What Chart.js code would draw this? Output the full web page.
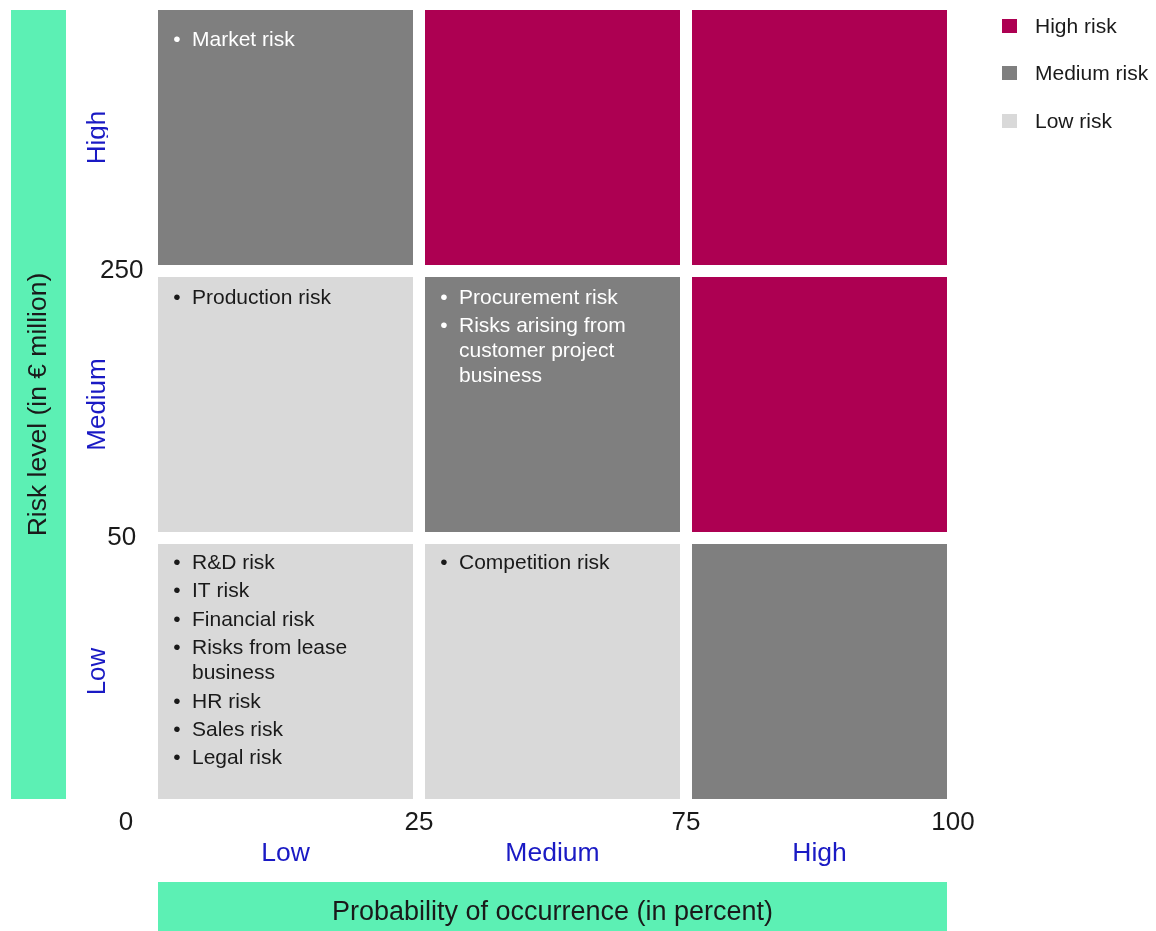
<!DOCTYPE html>
<html lang="en">
<head>
  <meta charset="UTF-8">
  <meta name="viewport" content="width=device-width, initial-scale=1.0">
  <title>Risk matrix</title>
  <script src="https://cdn.jsdelivr.net/npm/chart.js"></script>
  <style>
    body { margin: 0; background: #fff; font-family: 'Liberation Sans', Arial, sans-serif; }
    #wrap { position: relative; width: 1156px; height: 931px; }
    #legend { position: absolute; left: 1002px; top: 2px; list-style: none; margin: 0; padding: 0; }
    #legend li { height: 47.5px; display: flex; align-items: center; font-size: 21px; color: #1a1a1a; }
    #legend .box { display: inline-block; width: 15px; height: 14px; margin-right: 18px; }
  </style>
</head>
<body>

<div id="wrap">
  <canvas id="riskChart"></canvas>
  <ul id="legend"></ul>
</div>

<script>
  // axis bands and boundary ticks
  const probabilityLabels = ['Low', 'Medium', 'High'];
  const probabilityBounds = ['0', '25', '75', '100'];
  const levelLabels = ['Low', 'Medium', 'High']; // bottom to top
  const levelBounds = ['0', '50', '250'];
  const bandSize = [1, 1, 1]; // each cell is one band tall

  // risk class of each cell, left to right along probability
  const lowLevelRisk = ['low', 'low', 'medium'];
  const mediumLevelRisk = ['low', 'medium', 'high'];
  const highLevelRisk = ['medium', 'high', 'high'];

  // risks listed in each cell
  const lowLevelItems = [
    ['R&D risk', 'IT risk', 'Financial risk', 'Risks from lease business', 'HR risk', 'Sales risk', 'Legal risk'],
    ['Competition risk'],
    []
  ];
  const mediumLevelItems = [
    ['Production risk'],
    ['Procurement risk', 'Risks arising from customer project business'],
    []
  ];
  const highLevelItems = [
    ['Market risk'],
    [],
    []
  ];

  const legendLabels = ['High risk', 'Medium risk', 'Low risk'];
  const legendRisks = ['high', 'medium', 'low'];

  // styles
  const fontFamily = "'Liberation Sans', Arial, sans-serif";
  const riskColors = { high: '#ad0052', medium: '#7f7f7f', low: '#d9d9d9' };
  const riskTextColors = { high: '#ffffff', medium: '#ffffff', low: '#1a1a1a' };
  const green = '#5cf0b4';
  const blue = '#1a1ac4';
  const ink = '#1a1a1a';
  const gap = 6;
  const noGrid = { display: false, drawTicks: false };

  Chart.defaults.font.family = fontFamily;
  Chart.defaults.color = ink;

  const rows = [
    { label: 'Low', risk: lowLevelRisk, items: lowLevelItems },
    { label: 'Medium', risk: mediumLevelRisk, items: mediumLevelItems },
    { label: 'High', risk: highLevelRisk, items: highLevelItems }
  ];

  function wrap(ctx, text, maxWidth) {
    const lines = [];
    let cur = '';
    text.split(' ').forEach(w => {
      const test = cur ? cur + ' ' + w : w;
      if (cur && ctx.measureText(test).width > maxWidth) {
        lines.push(cur);
        cur = w;
      } else {
        cur = test;
      }
    });
    lines.push(cur);
    return lines;
  }

  // green boxes behind the axis titles, and the shared origin label
  const titleBoxes = {
    id: 'titleBoxes',
    beforeDraw(chart) {
      const { ctx, chartArea: a, scales } = chart;
      ctx.save();
      ctx.fillStyle = green;
      ctx.fillRect(scales.yLevel.left + 11, a.top + gap, 55, a.bottom - a.top - 2 * gap);
      ctx.fillRect(a.left + gap, scales.x.bottom - 49, a.right - a.left - 2 * gap, 49);
      ctx.restore();
    },
    afterDraw(chart) {
      const { ctx, scales } = chart;
      ctx.save();
      ctx.font = '26px ' + fontFamily;
      ctx.fillStyle = ink;
      ctx.textAlign = 'center';
      ctx.textBaseline = 'middle';
      ctx.fillText(probabilityBounds[0], scales.y.left + 18, scales.xNum.top + 18);
      ctx.restore();
    }
  };

  // bullet lists inside the cells
  const cellText = {
    id: 'cellText',
    afterDatasetsDraw(chart, args, opts) {
      const ctx = chart.ctx;
      ctx.save();
      ctx.font = opts.size + 'px ' + fontFamily;
      ctx.textBaseline = 'alphabetic';
      chart.data.datasets.forEach((ds, row) => {
        chart.getDatasetMeta(row).data.forEach((bar, col) => {
          const { x, y, base, width } = bar.getProps(['x', 'y', 'base', 'width'], true);
          const left = x - width / 2 + gap;
          const right = x + width / 2 - gap;
          let line = Math.min(y, base) + gap + opts.firstLine[row];
          ctx.fillStyle = riskTextColors[ds.risk[col]];
          ds.items[col].forEach(item => {
            ctx.textAlign = 'center';
            ctx.fillText('\u2022', left + opts.bullet, line);
            ctx.textAlign = 'left';
            wrap(ctx, item, right - left - opts.indent - 20).forEach((txt, k) => {
              if (k) line += opts.wrapStep;
              ctx.fillText(txt, left + opts.indent, line);
            });
            line += opts.itemStep;
          });
        });
      });
      ctx.restore();
    }
  };

  const riskChart = new Chart(document.getElementById('riskChart'), {
    type: 'bar',
    data: {
      labels: probabilityLabels,
      datasets: rows.map(r => ({
        label: r.label,
        data: bandSize.slice(),
        risk: r.risk,
        items: r.items,
        backgroundColor: r.risk.map(k => riskColors[k]),
        borderColor: '#ffffff',
        borderWidth: gap,
        borderSkipped: false,
        inflateAmount: 0,
        barPercentage: 1,
        categoryPercentage: 1
      }))
    },
    options: {
      responsive: true,
      maintainAspectRatio: false,
      animation: false,
      events: [],
      layout: { padding: { top: 4, right: 203, bottom: 0, left: 0 } },
      plugins: {
        legend: { display: false },
        tooltip: { enabled: false },
        cellText: { size: 21, bullet: 19, indent: 34, firstLine: [25, 27, 36], itemStep: 28.4, wrapStep: 25 }
      },
      scales: {
        x: {
          stacked: true,
          position: 'bottom',
          weight: 1,
          grid: noGrid,
          border: { display: false },
          ticks: { color: blue, font: { size: 26.5 }, padding: 0, maxRotation: 0 },
          title: {
            display: true,
            text: 'Probability of occurrence (in percent)',
            color: ink,
            font: { size: 27 },
            padding: { top: 0, bottom: 2 }
          },
          afterFit: s => { s.height = 93; s.paddingLeft = 0; s.paddingRight = 0; }
        },
        xNum: {
          type: 'linear',
          position: 'bottom',
          weight: 0,
          offset: false,
          min: 0,
          max: 3,
          grid: noGrid,
          border: { display: false },
          ticks: {
            stepSize: 1,
            autoSkip: false,
            maxRotation: 0,
            padding: 2,
            color: ink,
            font: { size: 26 },
            callback: v => v > 0 ? probabilityBounds[v] : null
          },
          afterFit: s => { s.height = 33; s.paddingLeft = 0; s.paddingRight = 0; }
        },
        y: {
          stacked: true,
          position: 'left',
          weight: 0,
          min: 0,
          max: 3,
          grid: noGrid,
          border: { display: false },
          ticks: {
            stepSize: 1,
            mirror: true,
            crossAlign: 'center',
            padding: -52,
            color: ink,
            font: { size: 26 },
            callback: v => v > 0 ? (levelBounds[v] ?? null) : null
          },
          afterFit: s => { s.width = 44; s.paddingTop = 0; s.paddingBottom = 0; }
        },
        yLevel: {
          type: 'category',
          labels: levelLabels.slice().reverse(),
          position: 'left',
          weight: 1,
          offset: true,
          grid: noGrid,
          border: { display: false },
          ticks: {
            color: blue,
            font: { size: 26 },
            minRotation: 90,
            maxRotation: 90,
            crossAlign: 'center',
            padding: -36
          },
          title: {
            display: true,
            text: 'Risk level (in € million)',
            color: ink,
            font: { size: 26.5 },
            padding: { top: 23, bottom: 0 }
          },
          afterFit: s => { s.width = 108; s.paddingTop = 0; s.paddingBottom = 0; }
        }
      }
    },
    plugins: [titleBoxes, cellText]
  });

  const legendList = document.getElementById('legend');
  legendLabels.forEach((text, i) => {
    const li = document.createElement('li');
    const box = document.createElement('span');
    box.className = 'box';
    box.style.background = riskColors[legendRisks[i]];
    li.appendChild(box);
    li.appendChild(document.createTextNode(text));
    legendList.appendChild(li);
  });
</script>

</body>
</html>
